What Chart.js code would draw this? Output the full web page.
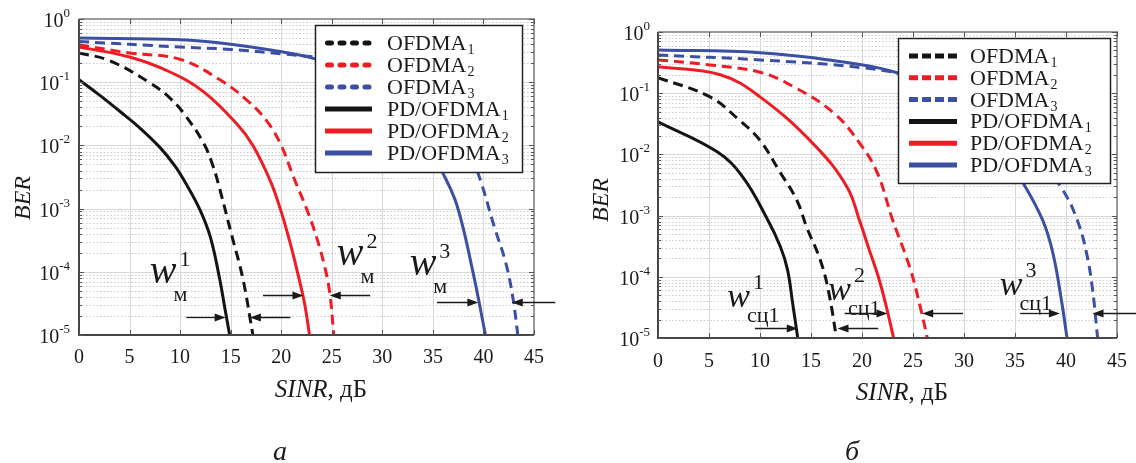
<!DOCTYPE html>
<html>
<head>
<meta charset="utf-8">
<script src="https://cdn.jsdelivr.net/npm/chart.js@4.4.1/dist/chart.umd.min.js"></script>
<style>
  html, body { margin: 0; padding: 0; background: #fff; }
  #wrap { position: relative; width: 1136px; height: 463px; overflow: hidden; }
  canvas { position: absolute; top: 0; }
</style>
</head>
<body>
<div id="wrap">
  <canvas id="panelA" width="568" height="463" style="left:0;width:568px;height:463px"></canvas>
  <canvas id="panelB" width="568" height="463" style="left:568px;width:568px;height:463px"></canvas>
</div>
<script>
// ---- axes ----
const sinrTicks = [0, 5, 10, 15, 20, 25, 30, 35, 40, 45];
const berDecades = [1e-5, 1e-4, 1e-3, 1e-2, 1e-1, 1];
const decadeExponents = ['-5', '-4', '-3', '-2', '-1', '0'];
const seriesLabels = ['OFDMA1', 'OFDMA2', 'OFDMA3', 'PD/OFDMA1', 'PD/OFDMA2', 'PD/OFDMA3'];

// ---- panel а : BER vs SINR, dB ----
const aOfdma1Sinr = [0, 3, 7, 9, 10.5, 12.3, 13.2, 13.9, 15.1, 16.2, 17.2];
const aOfdma1Ber  = [0.29, 0.22, 0.098, 0.056, 0.03, 0.011, 5e-3, 2.1e-3, 3.8e-4, 7.9e-5, 1e-5];
const aOfdma2Sinr = [0, 5, 10, 13.9, 16.6, 18.6, 20, 21.2, 22.5, 23.5, 24.3, 24.8, 25.2];
const aOfdma2Ber  = [0.39, 0.29, 0.23, 0.11, 0.052, 0.024, 0.01, 3.2e-3, 1e-3, 3.5e-4, 1.2e-4, 4.6e-5, 1e-5];
const aOfdma3Sinr = [0, 10, 15, 20.2, 24, 28, 32, 35, 37, 38.5, 39.7, 41.1, 42.2, 42.9, 43.4];
const aOfdma3Ber  = [0.44, 0.36, 0.33, 0.28, 0.24, 0.18, 0.105, 0.05, 0.022, 8.9e-3, 2.8e-3, 5e-4, 1.4e-4, 4e-5, 1e-5];
const aPd1Sinr = [0, 2, 4, 6, 8, 9.5, 10.7, 12, 13, 13.9, 14.4, 14.9];
const aPd1Ber  = [0.11, 0.063, 0.035, 0.019, 9.3e-3, 4.7e-3, 2.3e-3, 9.3e-4, 3.5e-4, 7.9e-5, 2.8e-5, 1e-5];
const aPd2Sinr = [0, 5, 9, 12.3, 15.6, 17.2, 18.9, 19.9, 20.8, 21.6, 22.3, 22.8];
const aPd2Ber  = [0.36, 0.25, 0.145, 0.071, 0.022, 0.01, 2.8e-3, 1e-3, 3.2e-4, 1e-4, 3.2e-5, 1e-5];
const aPd3Sinr = [0, 10, 15, 20.2, 23.1, 26, 29, 32, 34, 36, 37.4, 38.9, 40.2];
const aPd3Ber  = [0.5, 0.47, 0.4, 0.3, 0.24, 0.16, 0.089, 0.035, 0.014, 3.6e-3, 1.1e-3, 1.1e-4, 1e-5];

// gap markers of panel а (data coordinates)
const aGapLabels = [
  { x: 7.0,  y: 6.6e-5, sup: '1', sub: 'м' },
  { x: 25.5, y: 1.3e-4, sup: '2', sub: 'м' },
  { x: 32.7, y: 8.9e-5, sup: '3', sub: 'м' }
];
const aArrows = [
  { from: 10.6, to: 14.5, y: 1.9e-5 },
  { from: 20.9, to: 16.9, y: 1.9e-5 },
  { from: 18.2, to: 22.2, y: 4.3e-5 },
  { from: 28.8, to: 24.8, y: 4.3e-5 },
  { from: 35.4, to: 39.5, y: 3.3e-5 },
  { from: 47.1, to: 42.8, y: 3.3e-5 }
];

// ---- panel б ----
const bOfdma1Sinr = [0, 5.1, 8.0, 10, 12, 13.6, 14.6, 15.9, 16.7, 17.5];
const bOfdma1Ber  = [0.18, 0.087, 0.036, 0.017, 5e-3, 1.8e-3, 6.3e-4, 1.9e-4, 6e-5, 1e-5];
const bOfdma2Sinr = [0, 5.1, 10, 13.2, 17.2, 19.8, 21.5, 23.0, 24.7, 25.8, 26.4];
const bOfdma2Ber  = [0.35, 0.29, 0.22, 0.13, 0.048, 0.015, 5e-3, 8.5e-4, 1.4e-4, 2.8e-5, 1e-5];
const bOfdma3Sinr = [0, 10, 20.1, 25, 30, 34, 37.5, 39.7, 41.1, 42.0, 42.6, 43.1];
const bOfdma3Ber  = [0.42, 0.35, 0.26, 0.18, 0.079, 0.025, 7.9e-3, 2.6e-3, 8.5e-4, 2.5e-4, 6.3e-5, 1e-5];
const bPd1Sinr = [0, 5.8, 8.3, 10.7, 12.0, 12.7, 13.2, 13.7];
const bPd1Ber  = [0.034, 0.011, 4.3e-3, 8.9e-4, 3.1e-4, 1.3e-4, 3.7e-5, 1e-5];
const bPd2Sinr = [0, 6.1, 10, 15.2, 18.5, 19.8, 20.7, 21.6, 22.3, 23.1];
const bPd2Ber  = [0.27, 0.2, 0.087, 0.015, 3e-3, 7.9e-4, 2.8e-4, 1e-4, 3.7e-5, 1e-5];
const bPd3Sinr = [0, 10, 20.1, 23.7, 27, 30, 33, 35.8, 37.7, 38.7, 39.6, 40.1];
const bPd3Ber  = [0.51, 0.46, 0.29, 0.21, 0.13, 0.056, 0.018, 3.4e-3, 8.5e-4, 2.5e-4, 3.7e-5, 1e-5];

const bGapLabels = [
  { x: 6.8,  y: 3.2e-5, sup: '1', sub: 'сц1' },
  { x: 16.7, y: 4.2e-5, sup: '2', sub: 'сц1' },
  { x: 33.5, y: 5.0e-5, sup: '3', sub: 'сц1' }
];
const bArrows = [
  { from: 9.5,  to: 13.7, y: 1.45e-5 },
  { from: 21.6, to: 17.6, y: 1.45e-5 },
  { from: 18.3, to: 22.5, y: 2.6e-5 },
  { from: 29.9, to: 25.9, y: 2.6e-5 },
  { from: 35.5, to: 39.4, y: 2.6e-5 },
  { from: 46.9, to: 42.6, y: 2.6e-5 }
];

// ---- styling ----
const SERIF = '"Liberation Serif", "Times New Roman", serif';
const INK = '#1a1a1a';
const BLACK = '#141414', RED = '#ee1d25', BLUE = '#3b4fa3';
const seriesColors = [BLACK, RED, BLUE, BLACK, RED, BLUE];
const seriesDashed = [true, true, true, false, false, false];

function makeDatasets(pairs) {
  return pairs.map(([xs, ys], i) => ({
    label: seriesLabels[i],
    data: xs.map((x, k) => ({ x: x, y: ys[k] })),
    borderColor: seriesColors[i],
    backgroundColor: seriesColors[i],
    borderWidth: 3,
    borderDash: seriesDashed[i] ? [10, 6] : [],
    pointRadius: 0,
    tension: 0.4,
    fill: false
  }));
}

function drawPow(ctx, xRight, yBase, exp) {
  ctx.textAlign = 'left';
  ctx.textBaseline = 'alphabetic';
  ctx.font = `13px ${SERIF}`;
  const wSup = ctx.measureText(exp).width;
  ctx.font = `20px ${SERIF}`;
  const wBase = ctx.measureText('10').width;
  ctx.fillText('10', xRight - wSup - wBase, yBase);
  ctx.font = `13px ${SERIF}`;
  ctx.fillText(exp, xRight - wSup, yBase - 10);
}

function drawArrow(ctx, x0, x1, y) {
  const dir = Math.sign(x1 - x0);
  ctx.beginPath();
  ctx.moveTo(x0, y);
  ctx.lineTo(x1 - dir * 8, y);
  ctx.lineWidth = 1.3;
  ctx.stroke();
  ctx.beginPath();
  ctx.moveTo(x1, y);
  ctx.lineTo(x1 - dir * 11, y - 4);
  ctx.lineTo(x1 - dir * 11, y + 4);
  ctx.closePath();
  ctx.fill();
}

function makePanelPlugin(cfg) {
  return {
    id: 'panelDecor',
    beforeDatasetsDraw(chart) {
      const { ctx, chartArea: a, scales: { x, y } } = chart;
      ctx.save();
      ctx.beginPath();
      ctx.rect(a.left, a.top, a.right - a.left, a.bottom - a.top);
      ctx.clip();
      // minor log grid, dotted
      ctx.strokeStyle = '#cdcdcd';
      ctx.lineWidth = 1;
      ctx.setLineDash([1.5, 2]);
      berDecades.slice(0, -1).forEach(d => {
        for (let m = 2; m <= 9; m++) {
          const py = Math.round(y.getPixelForValue(d * m)) + 0.5;
          ctx.beginPath(); ctx.moveTo(a.left, py); ctx.lineTo(a.right, py); ctx.stroke();
        }
      });
      // major grid
      ctx.setLineDash([]);
      ctx.strokeStyle = '#d8d8d8';
      berDecades.forEach(d => {
        const py = Math.round(y.getPixelForValue(d)) + 0.5;
        ctx.beginPath(); ctx.moveTo(a.left, py); ctx.lineTo(a.right, py); ctx.stroke();
      });
      sinrTicks.forEach(v => {
        const px = Math.round(x.getPixelForValue(v)) + 0.5;
        ctx.beginPath(); ctx.moveTo(px, a.top); ctx.lineTo(px, a.bottom); ctx.stroke();
      });
      ctx.restore();
    },
    afterDatasetsDraw(chart) {
      const { ctx, chartArea: a, scales: { x, y } } = chart;
      ctx.save();
      // frame
      ctx.lineWidth = 2;
      ctx.strokeStyle = '#9a9a9a';
      ctx.beginPath(); ctx.moveTo(a.left, a.top); ctx.lineTo(a.right, a.top); ctx.lineTo(a.right, a.bottom); ctx.stroke();
      ctx.strokeStyle = '#454545';
      ctx.beginPath(); ctx.moveTo(a.left, a.top); ctx.lineTo(a.left, a.bottom); ctx.lineTo(a.right, a.bottom); ctx.stroke();
      // tick marks
      ctx.lineWidth = 1;
      ctx.strokeStyle = '#555';
      sinrTicks.forEach(v => {
        const px = Math.round(x.getPixelForValue(v)) + 0.5;
        ctx.beginPath();
        ctx.moveTo(px, a.bottom); ctx.lineTo(px, a.bottom - 5);
        ctx.moveTo(px, a.top); ctx.lineTo(px, a.top + 5);
        ctx.stroke();
      });
      berDecades.forEach((d, i) => {
        const marks = [[d, 5]];
        if (i < berDecades.length - 1) for (let m = 2; m <= 9; m++) marks.push([d * m, 3]);
        marks.forEach(([v, l]) => {
          const py = Math.round(y.getPixelForValue(v)) + 0.5;
          ctx.beginPath();
          ctx.moveTo(a.left, py); ctx.lineTo(a.left + l, py);
          ctx.moveTo(a.right, py); ctx.lineTo(a.right - l, py);
          ctx.stroke();
        });
      });

      // tick labels
      ctx.fillStyle = INK;
      ctx.font = `20px ${SERIF}`;
      ctx.textAlign = 'center';
      ctx.textBaseline = 'alphabetic';
      sinrTicks.forEach(v => ctx.fillText(String(v), x.getPixelForValue(v), a.bottom + cfg.xLabelGap));
      berDecades.forEach((d, i) => drawPow(ctx, a.left - cfg.yLabelGap, y.getPixelForValue(d) + 8, decadeExponents[i]));

      // axis titles
      ctx.save();
      ctx.translate(cfg.yTitleX, cfg.yTitleY);
      ctx.rotate(-Math.PI / 2);
      ctx.font = `italic 24px ${SERIF}`;
      ctx.textAlign = 'center';
      ctx.fillText('BER', 0, 8);
      ctx.restore();

      ctx.font = `italic 25px ${SERIF}`;
      const w1 = ctx.measureText('SINR').width;
      ctx.font = `25px ${SERIF}`;
      const w2 = ctx.measureText(', дБ').width;
      const sx = cfg.xTitleX - (w1 + w2) / 2;
      ctx.textAlign = 'left';
      ctx.font = `italic 25px ${SERIF}`;
      ctx.fillText('SINR', sx, cfg.xTitleY);
      ctx.font = `25px ${SERIF}`;
      ctx.fillText(', дБ', sx + w1, cfg.xTitleY);

      ctx.font = `italic 28px ${SERIF}`;
      ctx.textAlign = 'center';
      ctx.fillText(cfg.caption, cfg.captionX, 460);

      // gap markers
      ctx.fillStyle = INK;
      ctx.strokeStyle = INK;
      cfg.arrows.forEach(ar => drawArrow(ctx, x.getPixelForValue(ar.from), x.getPixelForValue(ar.to), Math.round(y.getPixelForValue(ar.y)) + 0.5));
      cfg.gapLabels.forEach(g => {
        const px = x.getPixelForValue(g.x), py = y.getPixelForValue(g.y);
        ctx.textAlign = 'left';
        ctx.font = `italic ${cfg.wSize}px ${SERIF}`;
        ctx.fillText('w', px, py);
        const ww = ctx.measureText('w').width;
        ctx.font = `22px ${SERIF}`;
        ctx.fillText(g.sup, px + ww + 3, py - cfg.supDy);
        ctx.fillText(g.sub, px + ww - 3, py + cfg.subDy);
      });

      // legend
      const L = cfg.legend;
      ctx.fillStyle = '#fff';
      ctx.fillRect(L.left, L.top, L.width, L.height);
      ctx.lineWidth = 1.5;
      ctx.strokeStyle = '#222';
      ctx.strokeRect(L.left + 0.5, L.top + 0.5, L.width, L.height);
      chart.data.datasets.forEach((ds, i) => {
        const ry = L.firstRow + i * L.step;
        ctx.save();
        ctx.strokeStyle = ds.borderColor;
        ctx.lineWidth = 5;
        if (seriesDashed[i]) {
          ctx.setLineDash(L.dash);
          ctx.lineCap = L.cap;
        }
        ctx.beginPath();
        ctx.moveTo(L.left + L.sampleFrom + (seriesDashed[i] && L.cap === 'round' ? 2.5 : 0), ry);
        ctx.lineTo(L.left + L.sampleTo, ry);
        ctx.stroke();
        ctx.restore();
        const base = ds.label.slice(0, -1), sub = ds.label.slice(-1);
        ctx.fillStyle = INK;
        ctx.textAlign = 'left';
        ctx.font = `22px ${SERIF}`;
        const tx = L.left + L.textX;
        ctx.fillText(base, tx, ry + 7);
        const bw = ctx.measureText(base).width;
        ctx.font = `14px ${SERIF}`;
        ctx.fillText(sub, tx + bw + 1, ry + 11);
      });
      ctx.restore();
    }
  };
}

function buildPanel(canvasId, area, datasets, cfg) {
  const W = 568, H = 463;
  return new Chart(document.getElementById(canvasId), {
    type: 'line',
    data: { datasets: datasets },
    options: {
      responsive: false,
      animation: false,
      devicePixelRatio: 1,
      layout: { padding: { top: area.top, right: W - area.right, bottom: 0, left: 0 } },
      plugins: { legend: { display: false }, tooltip: { enabled: false } },
      scales: {
        x: {
          type: 'linear', min: 0, max: 45,
          ticks: { display: false }, grid: { display: false }, border: { display: false },
          afterFit(s) { s.height = H - area.bottom; }
        },
        y: {
          type: 'logarithmic', min: 1e-5, max: 1,
          ticks: { display: false }, grid: { display: false }, border: { display: false },
          afterFit(s) { s.width = area.left; }
        }
      }
    },
    plugins: [makePanelPlugin(cfg)]
  });
}

buildPanel('panelA', { left: 79, top: 19, right: 534, bottom: 335 },
  makeDatasets([[aOfdma1Sinr, aOfdma1Ber], [aOfdma2Sinr, aOfdma2Ber], [aOfdma3Sinr, aOfdma3Ber],
                [aPd1Sinr, aPd1Ber], [aPd2Sinr, aPd2Ber], [aPd3Sinr, aPd3Ber]]),
  {
    xLabelGap: 28, yLabelGap: 9,
    yTitleX: 22, yTitleY: 198, xTitleX: 321, xTitleY: 397,
    caption: 'а', captionX: 280,
    gapLabels: aGapLabels, arrows: aArrows,
    wSize: 40, supDy: 17, subDy: 18,
    legend: { left: 315, top: 25, width: 207, height: 147, firstRow: 43, step: 22,
              sampleFrom: 10, sampleTo: 57, textX: 72, dash: [4, 8.5], cap: 'round' }
  });

buildPanel('panelB', { left: 90, top: 32, right: 549, bottom: 338 },
  makeDatasets([[bOfdma1Sinr, bOfdma1Ber], [bOfdma2Sinr, bOfdma2Ber], [bOfdma3Sinr, bOfdma3Ber],
                [bPd1Sinr, bPd1Ber], [bPd2Sinr, bPd2Ber], [bPd3Sinr, bPd3Ber]]),
  {
    xLabelGap: 29, yLabelGap: 8,
    yTitleX: 32, yTitleY: 200, xTitleX: 334, xTitleY: 400,
    caption: 'б', captionX: 284,
    gapLabels: bGapLabels, arrows: bArrows,
    wSize: 34, supDy: 18, subDy: 15,
    legend: { left: 330, top: 38, width: 212, height: 145, firstRow: 56, step: 21.8,
              sampleFrom: 11, sampleTo: 59, textX: 72, dash: [9, 4], cap: 'butt' }
  });
</script>
</body>
</html>
